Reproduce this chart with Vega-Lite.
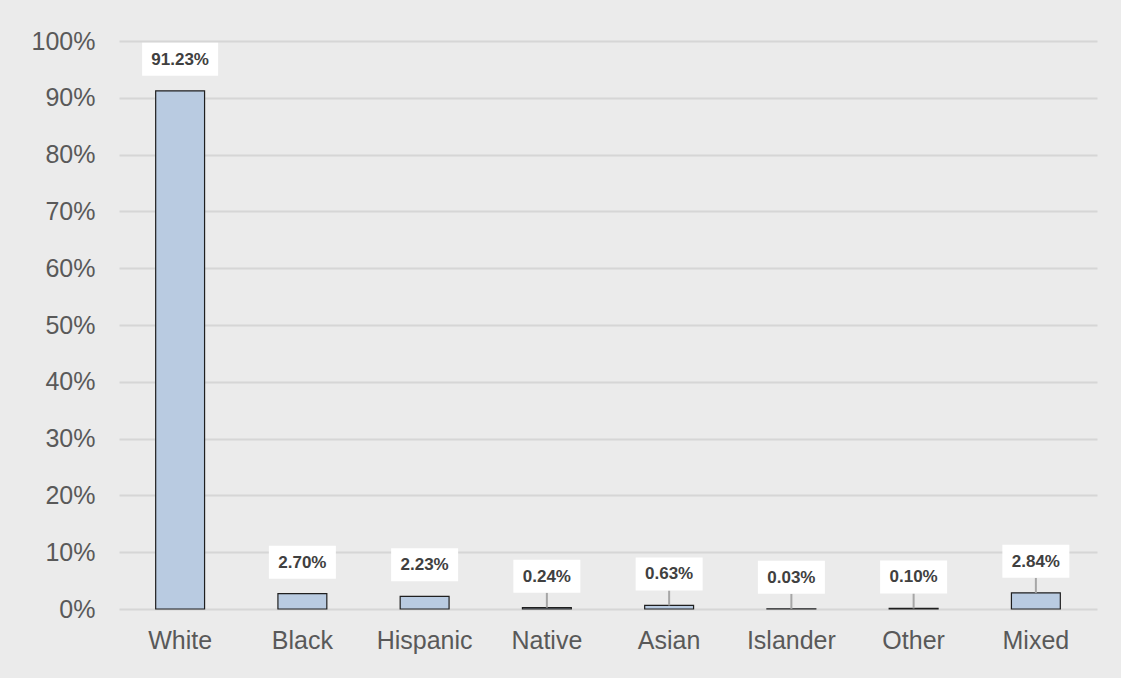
{
  "$schema": "https://vega.github.io/schema/vega-lite/v6.json",
  "width": 978,
  "height": 568,
  "autosize": {"type": "none"},
  "padding": {"left": 119, "top": 41, "right": 24, "bottom": 69},
  "background": "#ebebeb",
  "config": {
    "view": {"stroke": null},
    "font": "Liberation Sans",
    "axis": {
      "labelFont": "Liberation Sans",
      "labelColor": "#595959",
      "labelFontSize": 25,
      "domain": false,
      "ticks": false
    }
  },
  "data": {
    "values": [
      {"race": "White", "share": 0.9123},
      {"race": "Black", "share": 0.027},
      {"race": "Hispanic", "share": 0.0223},
      {"race": "Native", "share": 0.0024},
      {"race": "Asian", "share": 0.0063},
      {"race": "Islander", "share": 0.0003},
      {"race": "Other", "share": 0.001},
      {"race": "Mixed", "share": 0.0284}
    ]
  },
  "encoding": {
    "x": {
      "field": "race",
      "type": "nominal",
      "sort": null,
      "title": null,
      "scale": {"paddingInner": 0.6, "paddingOuter": 0.3},
      "axis": {"labelAngle": 0, "labelPadding": 19, "grid": false}
    },
    "y": {
      "field": "share",
      "type": "quantitative",
      "title": null,
      "scale": {"domain": [0, 1], "nice": false},
      "axis": {
        "format": ".0%",
        "values": [0, 0.1, 0.2, 0.3, 0.4, 0.5, 0.6, 0.7, 0.8, 0.9, 1],
        "labelPadding": 24,
        "gridColor": "#d6d6d6",
        "gridWidth": 2
      }
    }
  },
  "layer": [
    {
      "mark": {"type": "bar", "fill": "#b9cbe1", "stroke": "#1f1f1f", "strokeWidth": 1.2}
    },
    {
      "transform": [{"filter": {"field": "race", "oneOf": ["Native", "Asian", "Islander", "Other", "Mixed"]}}],
      "mark": {"type": "rule", "color": "#a6a6a6", "strokeWidth": 2, "y2Offset": -15},
      "encoding": {"y2": {"field": "share"}}
    },
    {
      "transform": [{"filter": "datum.share >= 0.1"}],
      "mark": {"type": "bar", "fill": "white", "width": 76, "yOffset": -48, "y2Offset": -15},
      "encoding": {"y2": {"field": "share"}}
    },
    {
      "transform": [{"filter": "datum.share < 0.1"}],
      "mark": {"type": "bar", "fill": "white", "width": 67, "yOffset": -48, "y2Offset": -15},
      "encoding": {"y2": {"field": "share"}}
    },
    {
      "mark": {"type": "text", "fontWeight": "bold", "fontSize": 17, "color": "#404040", "baseline": "middle", "yOffset": -31},
      "encoding": {"text": {"field": "share", "type": "quantitative", "format": ".2%"}}
    }
  ]
}
